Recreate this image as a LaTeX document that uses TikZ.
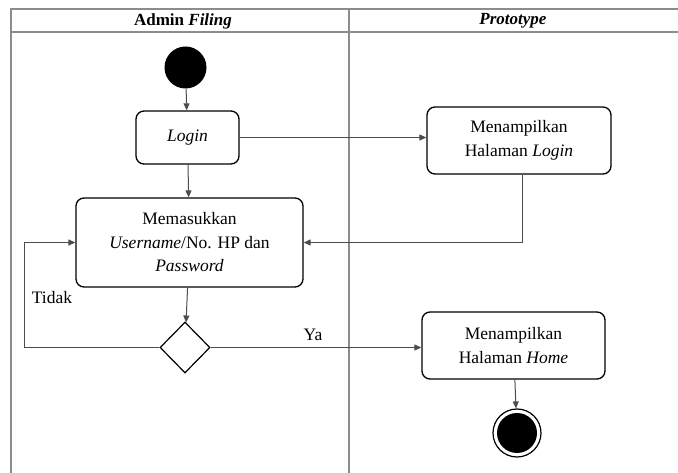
\documentclass[tikz,border=0pt]{standalone}
\usepackage{fontspec}
\setmainfont{Liberation Serif}
\usetikzlibrary{shapes.geometric,arrows.meta,calc}
\begin{document}
\begin{tikzpicture}[x=1pt,y=-1pt,
  frame/.style={draw=black!45,line width=1.6pt},
  act/.style={draw=black,line width=1.3pt,rounded corners=8pt,align=center,
    font=\fontsize{17.5}{23.5}\selectfont,inner sep=0pt},
  conn/.style={draw=black!70,line width=1pt,-{Triangle[length=7pt,width=6pt]}},
  lbl/.style={font=\fontsize{17.5}{21}\selectfont},
  hdr/.style={font=\fontsize{17}{20}\selectfont\bfseries}]
\useasboundingbox (0,0) rectangle (678,473);
% swimlane frame
\draw[frame] (11,473) -- (11,9) -- (678,9);
\draw[frame] (11,32) -- (678,32);
\draw[frame] (349,9) -- (349,473);
\node[hdr] (h1) at (183,21) {Admin \textit{Filing}};
\node[hdr] (h2) at (513,21) {\textit{Prototype}};
% nodes
\node[circle,fill=black,minimum size=42pt,inner sep=0pt] (start) at (185.5,67.5) {};
\node[act,minimum width=103pt,minimum height=53pt] (login) at (187.5,137.5) {\textit{Login}};
\node[act,minimum width=184pt,minimum height=67pt] (mhl) at (519,140.5) {Menampilkan\\Halaman \textit{Login}};
\node[act,minimum width=227pt,minimum height=89pt] (mem) at (189.5,242.5) {Memasukkan\\\textit{Username}/No. HP dan\\\textit{Password}};
\node[diamond,draw=black,line width=1.2pt,minimum width=50pt,minimum height=51pt,inner sep=0pt] (dec) at (185,347.5) {};
\node[act,minimum width=183pt,minimum height=67pt] (mhh) at (513.5,345.5) {Menampilkan\\Halaman \textit{Home}};
\node[circle,draw=black,line width=1.2pt,minimum size=48pt,inner sep=0pt] (end) at (517,433) {};
\node[circle,fill=black,minimum size=40pt,inner sep=0pt] (endin) at (end.center) {};
\coordinate (loop) at (24,347.5);
% connectors
\draw[conn] (start) -- (login);
\draw[conn] (login.east) -- (login.east -| mhl.west);
\draw[conn] (login) -- (mem);
\draw[conn] ($(mhl.south)+(3,0)$) |- (mem.east);
\draw[conn] (mem) -- (dec);
\draw[conn] (dec.west) -- (loop) |- (mem.west);
\draw[conn] (dec.east) -- (dec.east -| mhh.west);
\draw[conn] (mhh) -- (end);
\node[lbl] (tidak) at (52,298) {Tidak};
\node[lbl] (ya) at (313,335) {Ya};
\end{tikzpicture}
\end{document}
